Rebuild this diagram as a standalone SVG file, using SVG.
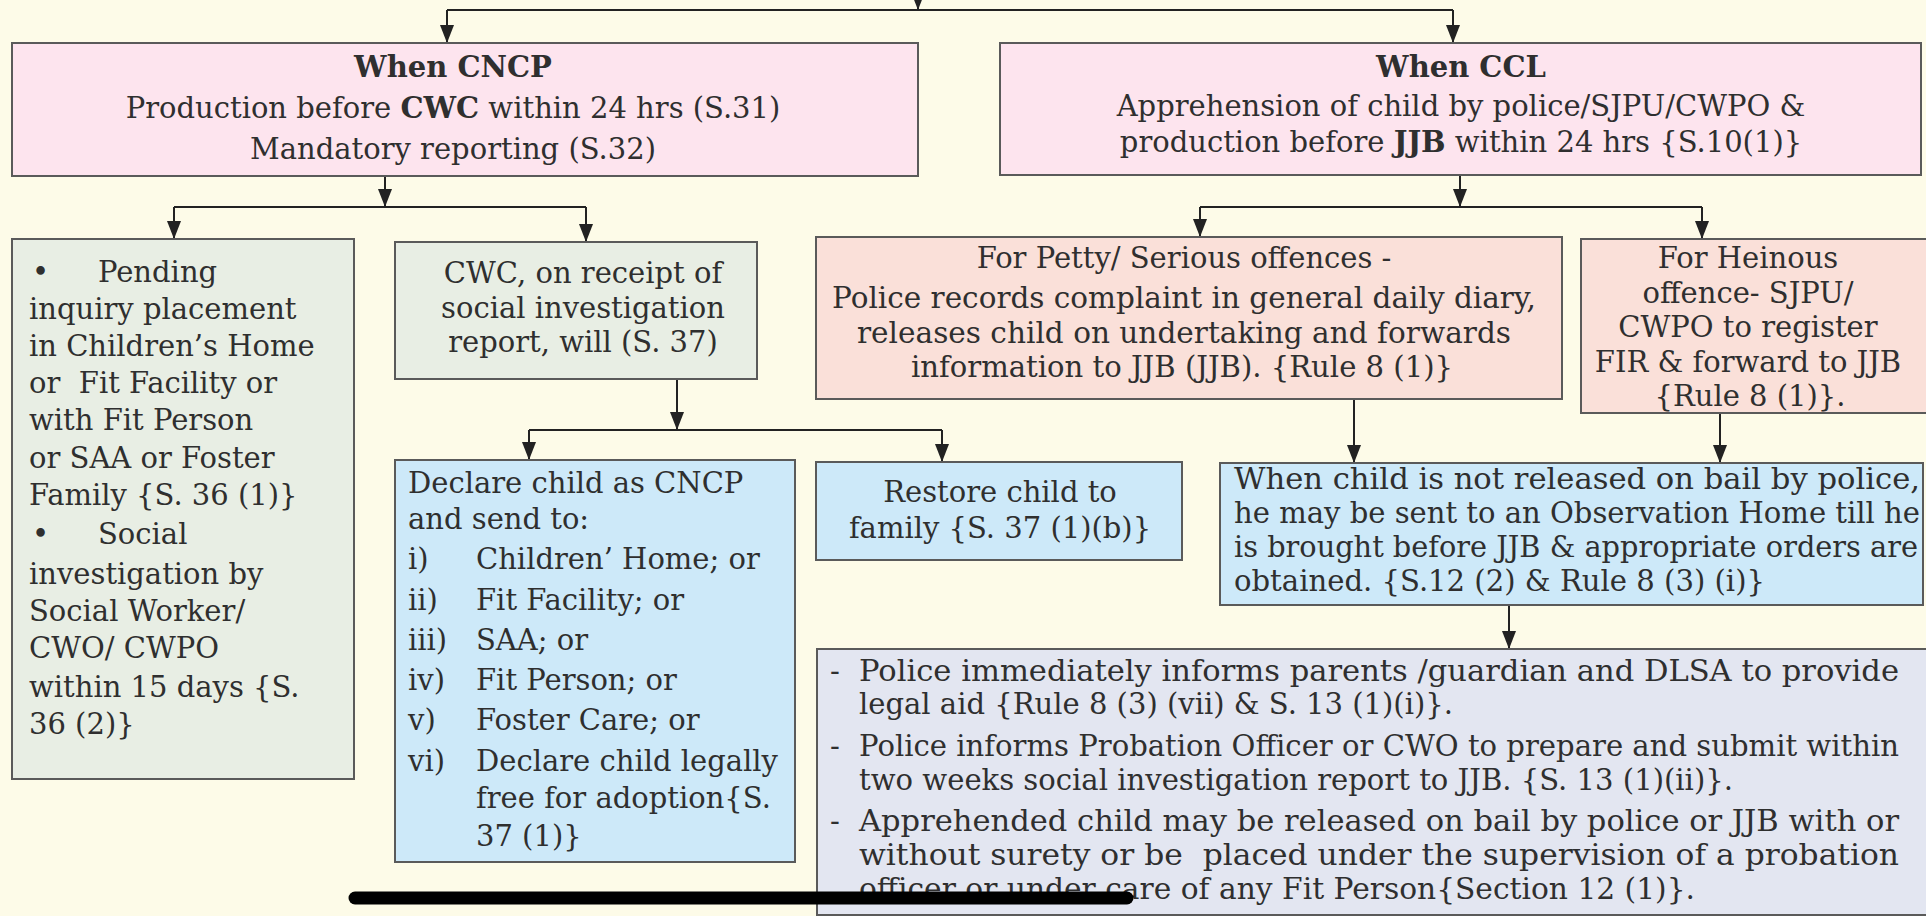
<svg xmlns="http://www.w3.org/2000/svg" width="1926" height="916" viewBox="0 0 1926 916">
<style>
text{font-family:"DejaVu Serif","Liberation Serif",serif;font-size:29px;fill:#2f2f2f}
.c{text-anchor:middle}
.b{font-weight:bold}
.bx{stroke:#5a5a5a;stroke-width:2}
.pink{fill:#fde4ee}
.grn{fill:#e8eee4}
.peach{fill:#fae0d9}
.blue{fill:#cde9f9}
.lav{fill:#e3e6f1}
.ln{fill:none;stroke:#222;stroke-width:2}
</style>
<defs>
<marker id="ah" viewBox="0 0 18 14" refX="18" refY="7" markerWidth="18" markerHeight="14" markerUnits="userSpaceOnUse" orient="auto">
<path d="M0,0 L18,7 L0,14 z" fill="#222"/>
</marker>
</defs>
<rect width="1926" height="916" fill="#fdfbe8"/>

<g id="connectors">
<path class="ln" d="M918,-10 V10" marker-end="url(#ah)"/>
<path class="ln" d="M447,10 H1453"/>
<path class="ln" d="M447,10 V43" marker-end="url(#ah)"/>
<path class="ln" d="M1453,10 V43" marker-end="url(#ah)"/>
<path class="ln" d="M385,176 V207" marker-end="url(#ah)"/>
<path class="ln" d="M174,207 H586"/>
<path class="ln" d="M174,207 V239" marker-end="url(#ah)"/>
<path class="ln" d="M586,207 V242" marker-end="url(#ah)"/>
<path class="ln" d="M1460,176 V207" marker-end="url(#ah)"/>
<path class="ln" d="M1200,207 H1702"/>
<path class="ln" d="M1200,207 V237" marker-end="url(#ah)"/>
<path class="ln" d="M1702,207 V239" marker-end="url(#ah)"/>
<path class="ln" d="M677,379 V430" marker-end="url(#ah)"/>
<path class="ln" d="M529,430 H942"/>
<path class="ln" d="M529,430 V460" marker-end="url(#ah)"/>
<path class="ln" d="M942,430 V462" marker-end="url(#ah)"/>
<path class="ln" d="M1354,399 V463" marker-end="url(#ah)"/>
<path class="ln" d="M1720,413 V463" marker-end="url(#ah)"/>
<path class="ln" d="M1509,605 V649" marker-end="url(#ah)"/>
</g>

<g id="cncp">
<rect class="bx pink" x="12" y="43" width="906" height="133"/>
<text class="c b" x="453" y="77">When CNCP</text>
<text class="c" x="453" y="118">Production before <tspan class="b">CWC</tspan> within 24 hrs (S.31)</text>
<text class="c" x="453" y="159">Mandatory reporting (S.32)</text>
</g>

<g id="ccl">
<rect class="bx pink" x="1000" y="43" width="921" height="132"/>
<text class="c b" x="1461" y="77">When CCL</text>
<text class="c" x="1461" y="116">Apprehension of child by police/SJPU/CWPO &amp;</text>
<text class="c" x="1461" y="152">production before <tspan class="b">JJB</tspan> within 24 hrs {S.10(1)}</text>
</g>

<g id="pending">
<rect class="bx grn" x="12" y="239" width="342" height="540"/>
<text x="32" y="282">•</text><text x="98" y="282">Pending</text>
<text x="29" y="319">inquiry placement</text>
<text x="29" y="356">in Children’s Home</text>
<text x="29" y="393">or&#160; Fit Facility or</text>
<text x="29" y="430">with Fit Person</text>
<text x="29" y="468">or SAA or Foster</text>
<text x="29" y="505">Family {S. 36 (1)}</text>
<text x="32" y="544">•</text><text x="98" y="544">Social</text>
<text x="29" y="584">investigation by</text>
<text x="29" y="621">Social Worker/</text>
<text x="29" y="658">CWO/ CWPO</text>
<text x="29" y="697">within 15 days {S.</text>
<text x="29" y="734">36 (2)}</text>
</g>

<g id="cwc-sir">
<rect class="bx grn" x="395" y="242" width="362" height="137"/>
<text class="c" x="583" y="283">CWC, on receipt of</text>
<text class="c" x="583" y="318">social investigation</text>
<text class="c" x="583" y="352">report, will (S. 37)</text>
</g>

<g id="declare">
<rect class="bx blue" x="395" y="460" width="400" height="402"/>
<text x="408" y="493">Declare child as CNCP</text>
<text x="408" y="529">and send to:</text>
<text x="408" y="569">i)</text><text x="476" y="569">Children’ Home; or</text>
<text x="408" y="610">ii)</text><text x="476" y="610">Fit Facility; or</text>
<text x="408" y="650">iii)</text><text x="476" y="650">SAA; or</text>
<text x="408" y="690">iv)</text><text x="476" y="690">Fit Person; or</text>
<text x="408" y="730">v)</text><text x="476" y="730">Foster Care; or</text>
<text x="408" y="771">vi)</text><text x="476" y="771">Declare child legally</text>
<text x="476" y="808">free for adoption{S.</text>
<text x="476" y="846">37 (1)}</text>
</g>

<g id="restore">
<rect class="bx blue" x="816" y="462" width="366" height="98"/>
<text class="c" x="1000" y="502">Restore child to</text>
<text class="c" x="1000" y="538">family {S. 37 (1)(b)}</text>
</g>

<g id="petty">
<rect class="bx peach" x="816" y="237" width="746" height="162"/>
<text class="c" x="1184" y="268">For Petty/ Serious offences -</text>
<text class="c" x="1184" y="308" textLength="704" lengthAdjust="spacingAndGlyphs">Police records complaint in general daily diary,</text>
<text class="c" x="1184" y="343" textLength="654" lengthAdjust="spacingAndGlyphs">releases child on undertaking and forwards</text>
<text class="c" x="1182" y="377" textLength="542" lengthAdjust="spacingAndGlyphs">information to JJB (JJB). {Rule 8 (1)}</text>
</g>

<g id="heinous">
<rect class="bx peach" x="1581" y="239" width="350" height="174"/>
<text class="c" x="1748" y="268">For Heinous</text>
<text class="c" x="1748" y="303">offence- SJPU/</text>
<text class="c" x="1748" y="337">CWPO to register</text>
<text class="c" x="1748" y="372">FIR &amp; forward to JJB</text>
<text class="c" x="1750" y="406">{Rule 8 (1)}.</text>
</g>

<g id="not-released">
<rect class="bx blue" x="1220" y="463" width="703" height="142"/>
<text x="1234" y="489" textLength="686" lengthAdjust="spacingAndGlyphs">When child is not released on bail by police,</text>
<text x="1234" y="523" textLength="686" lengthAdjust="spacingAndGlyphs">he may be sent to an Observation Home till he</text>
<text x="1234" y="557" textLength="684" lengthAdjust="spacingAndGlyphs">is brought before JJB &amp; appropriate orders are</text>
<text x="1234" y="591" textLength="531" lengthAdjust="spacingAndGlyphs">obtained. {S.12 (2) &amp; Rule 8 (3) (i)}</text>
</g>

<g id="police-actions">
<rect class="bx lav" x="817" y="649" width="1115" height="266"/>
<text x="830" y="681">-</text>
<text x="859" y="681" textLength="1040" lengthAdjust="spacingAndGlyphs">Police immediately informs parents /guardian and DLSA to provide</text>
<text x="859" y="714" textLength="594" lengthAdjust="spacingAndGlyphs">legal aid {Rule 8 (3) (vii) &amp; S. 13 (1)(i)}.</text>
<text x="830" y="756">-</text>
<text x="859" y="756" textLength="1040" lengthAdjust="spacingAndGlyphs">Police informs Probation Officer or CWO to prepare and submit within</text>
<text x="859" y="790" textLength="874" lengthAdjust="spacingAndGlyphs">two weeks social investigation report to JJB. {S. 13 (1)(ii)}.</text>
<text x="830" y="831">-</text>
<text x="859" y="831" textLength="1040" lengthAdjust="spacingAndGlyphs">Apprehended child may be released on bail by police or JJB with or</text>
<text x="859" y="865" textLength="1040" lengthAdjust="spacingAndGlyphs">without surety or be&#160; placed under the supervision of a probation</text>
<text x="859" y="899" textLength="836" lengthAdjust="spacingAndGlyphs">officer or under care of any Fit Person{Section 12 (1)}.</text>
</g>

<path d="M355,898 H1127" stroke="#000" stroke-width="13" stroke-linecap="round" fill="none"/>
</svg>
